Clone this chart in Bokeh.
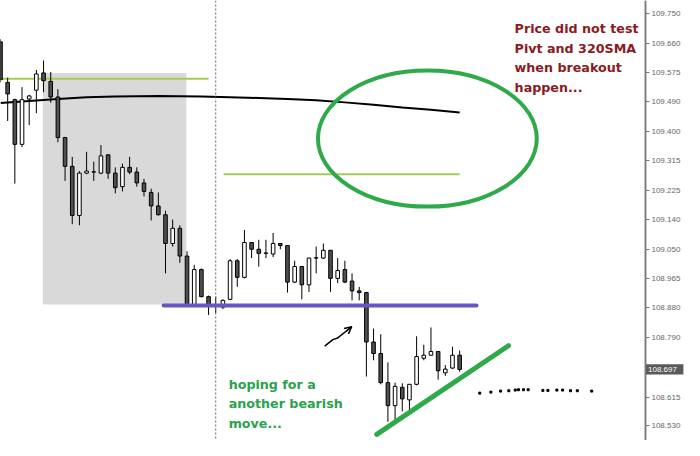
from bokeh.plotting import figure
from bokeh.models import (ColumnDataSource, BoxAnnotation, Span, Arrow, OpenHead,
                          FixedTicker, NumeralTickFormatter, Range1d)
from bokeh.core.properties import value
from bokeh.embed import file_html
from bokeh.resources import INLINE

# ---------------- data ----------------
bar_index = list(range(65))
opens = [109.665, 109.545, 109.494, 109.362, 109.496, 109.522, 109.573, 109.548, 109.502, 109.382,
         109.297, 109.152, 109.277, 109.280, 109.277, 109.331, 109.277, 109.237, 109.294, 109.280,
         109.248, 109.220, 109.180, 109.154, 109.069, 109.114, 109.032, 108.889, 108.992, 108.912,
         108.884, 108.881, 108.904, 109.018, 108.969, 109.072, 109.052, 109.040, 109.038, 109.069,
         109.063, 108.955, 109.001, 108.947, 109.026, 109.026, 109.049, 108.966, 108.992, 108.958,
         108.929, 108.924, 108.778, 108.744, 108.658, 108.590, 108.644, 108.607, 108.653, 108.730,
         108.739, 108.750, 108.687, 108.701, 108.739]
highs = [109.673, 109.559, 109.497, 109.531, 109.508, 109.582, 109.610, 109.576, 109.525, 109.384,
         109.325, 109.283, 109.340, 109.311, 109.360, 109.332, 109.294, 109.305, 109.325, 109.294,
         109.260, 109.231, 109.220, 109.166, 109.140, 109.123, 109.046, 109.006, 108.995, 108.915,
         108.912, 108.904, 109.023, 109.023, 109.109, 109.073, 109.080, 109.080, 109.100, 109.070,
         109.064, 109.018, 109.002, 109.027, 109.060, 109.069, 109.050, 109.026, 109.018, 108.981,
         108.941, 108.926, 108.818, 108.801, 108.718, 108.658, 108.656, 108.654, 108.795, 108.770,
         108.821, 108.751, 108.710, 108.764, 108.753]
lows = [109.545, 109.431, 109.246, 109.354, 109.419, 109.454, 109.516, 109.485, 109.368, 109.254,
        109.126, 109.123, 109.274, 109.254, 109.274, 109.260, 109.217, 109.223, 109.274, 109.237,
        109.208, 109.137, 109.152, 108.981, 109.060, 109.012, 108.884, 108.884, 108.910, 108.858,
        108.864, 108.875, 108.902, 108.941, 108.966, 109.026, 109.001, 109.026, 109.029, 109.052,
        108.924, 108.952, 108.904, 108.926, 108.981, 109.023, 108.926, 108.952, 108.952, 108.901,
        108.901, 108.676, 108.724, 108.653, 108.542, 108.547, 108.573, 108.576, 108.650, 108.724,
        108.738, 108.667, 108.678, 108.698, 108.690]
closes = [109.553, 109.511, 109.362, 109.494, 109.505, 109.570, 109.550, 109.502, 109.382, 109.297,
          109.152, 109.277, 109.283, 109.281, 109.328, 109.277, 109.234, 109.294, 109.280, 109.248,
          109.223, 109.180, 109.154, 109.069, 109.114, 109.032, 108.889, 108.992, 108.912, 108.884,
          108.883, 108.901, 109.018, 108.969, 109.072, 109.052, 109.040, 109.041, 109.069, 109.063,
          108.955, 109.001, 108.947, 109.026, 109.027, 109.049, 108.966, 108.989, 108.955, 108.929,
          108.924, 108.778, 108.744, 108.658, 108.590, 108.647, 108.610, 108.653, 108.735, 108.739,
          108.750, 108.693, 108.698, 108.739, 108.697]

# 320 SMA (sampled at bars)
sma_index = [0, 4, 8, 12, 16, 22, 28, 32, 36, 40, 44, 48, 52, 56, 60, 64]
sma_values = [109.484, 109.490, 109.496, 109.501, 109.503, 109.505, 109.503, 109.501, 109.499,
              109.496, 109.492, 109.486, 109.479, 109.471, 109.464, 109.456]

# horizontal levels
level1_x = [0, 29.0]
level1_price = [109.556, 109.556]
level2_x = [31.1, 64.0]
level2_price = [109.274, 109.274]
pivot_x = [22.75, 66.35]
pivot_price = [108.886, 108.886]

# shaded zone
zone_left, zone_right, zone_top, zone_bottom = 5.9, 25.9, 109.573, 108.889

# separator
separator_bar = 30

# ellipse
ell_x, ell_y, ell_w, ell_h = 59.5, 109.379, 30.5, 0.402

# trend line
trend_x = [52.45, 70.8]
trend_price = [108.505, 108.767]

# hand-drawn arrow
arrow_x = [45.19, 46.32, 47.0, 48.13, 48.95]
arrow_price = [108.766, 108.785, 108.790, 108.809, 108.823]

# small dots on the right
dot_x = [66.8, 68.35, 69.7, 70.85, 71.75, 72.2, 72.9, 73.55, 75.6, 76.3, 77.55, 78.35, 79.45, 80.4, 82.4]
dot_price = [108.627, 108.630, 108.633, 108.634, 108.636, 108.637, 108.637, 108.637, 108.635,
             108.635, 108.636, 108.636, 108.634, 108.634, 108.633]

tick_values = [108.530, 108.615, 108.790, 108.880, 108.965, 109.050, 109.140, 109.225,
               109.315, 109.400, 109.490, 109.575, 109.660, 109.750]
last_price = 108.697

note_red = ["Price did not test", "Pivt and 320SMA", "when breakout", "happen..."]
note_red_x = [71.66, 71.66, 71.66, 71.66]
note_red_y = [109.703, 109.645, 109.588, 109.529]
note_green = ["hoping for a", "another bearish", "move..."]
note_green_x = [31.8, 31.8, 31.8]
note_green_y = [108.652, 108.595, 108.538]

# ---------------- figure ----------------
AXIS_X = 89.9      # bar position of the price scale
X_END = 95.34      # right edge of the picture, in bars
Y_LO, Y_HI = 108.487, 109.787
p = figure(width=684, height=440, output_backend="svg", toolbar_location=None,
           x_range=Range1d(0, X_END), y_range=Range1d(Y_LO, Y_HI),
           x_axis_location=None, y_axis_location="right",
           min_border_left=0, min_border_top=0, min_border_bottom=0, min_border_right=0)
p.outline_line_color = None
p.grid.visible = False
p.background_fill_color = "white"
p.border_fill_color = "white"

ax = p.yaxis[0]
ax.fixed_location = AXIS_X
ax.ticker = FixedTicker(ticks=tick_values)
ax.formatter = NumeralTickFormatter(format="0.000")
ax.major_tick_out = 4
ax.major_tick_in = 0
ax.minor_tick_out = 0
ax.minor_tick_in = 0
ax.axis_line_color = "#7a7a7a"
ax.axis_line_width = 1.5
ax.major_tick_line_color = "#7a7a7a"
ax.major_label_text_font = "Liberation Sans"
ax.major_label_text_font_size = "8px"
ax.major_label_text_color = "#666666"
ax.major_label_standoff = 2

# price-scale border line
p.segment(x0=[AXIS_X], y0=[Y_LO], x1=[AXIS_X], y1=[Y_HI], line_color="#7a7a7a", line_width=1.5)

p.add_layout(BoxAnnotation(left=zone_left, right=zone_right, top=zone_top, bottom=zone_bottom,
                           fill_color="#d9d9d9", fill_alpha=1.0, line_color=None, level="underlay"))
p.add_layout(Span(location=separator_bar, dimension="height", line_color="#666666",
                  line_dash="2 2", line_width=1))

p.line(level1_x, level1_price, line_color="#a4cc55", line_width=2)
p.line(level2_x, level2_price, line_color="#a4cc55", line_width=2)
p.line(sma_index, sma_values, line_color="black", line_width=2)

top = [max(o, c) for o, c in zip(opens, closes)]
bottom = [min(o, c) for o, c in zip(opens, closes)]
fill = ["white" if c >= o else "#505050" for o, c in zip(opens, closes)]
src = ColumnDataSource(dict(x=bar_index, high=highs, low=lows, top=top, bottom=bottom, fill=fill))
p.segment(x0="x", y0="high", x1="x", y1="low", source=src, line_color="black", line_width=1)
p.vbar(x="x", width=0.5, top="top", bottom="bottom", fill_color="fill", line_color="black",
       line_width=1, source=src)

p.line(pivot_x, pivot_price, line_color="#6656c8", line_width=4, line_cap="round")
p.ellipse(x=[ell_x], y=[ell_y], width=[ell_w], height=[ell_h], fill_color=None,
          line_color="#2eaa4a", line_width=4)
p.line(trend_x, trend_price, line_color="#2eaa4a", line_width=5, line_cap="round")

p.line(arrow_x, arrow_price, line_color="black", line_width=1.5)
p.add_layout(Arrow(end=OpenHead(size=7, line_width=1.5, line_color="black"),
                   x_start=arrow_x[-2], y_start=arrow_price[-2],
                   x_end=arrow_x[-1], y_end=arrow_price[-1],
                   line_width=1.5, line_color="black"))

p.scatter(dot_x, dot_price, marker="square", size=2, color="black")

p.text(x=note_red_x, y=note_red_y, text=note_red, text_font=value("DejaVu Sans"),
       text_font_style="bold", text_font_size="12.7px", text_color="#8b1a22",
       text_baseline="alphabetic", text_align="left")
p.text(x=note_green_x, y=note_green_y, text=note_green, text_font=value("DejaVu Sans"),
       text_font_style="bold", text_font_size="12.7px", text_color="#2ca24c",
       text_baseline="alphabetic", text_align="left")

# current price marker on the scale
half_h = 0.0152
p.quad(left=[AXIS_X + 0.05], right=[X_END - 0.15], top=[last_price + half_h],
       bottom=[last_price - half_h], fill_color="#5a5a5a", line_color=None)
p.text(x=[AXIS_X + 0.35], y=[last_price], text=[f"{last_price:.3f}"],
       text_font=value("Liberation Sans"), text_font_size="8px", text_color="white",
       text_baseline="middle", text_align="left")

open("out.html", "w").write(file_html(p, INLINE))
